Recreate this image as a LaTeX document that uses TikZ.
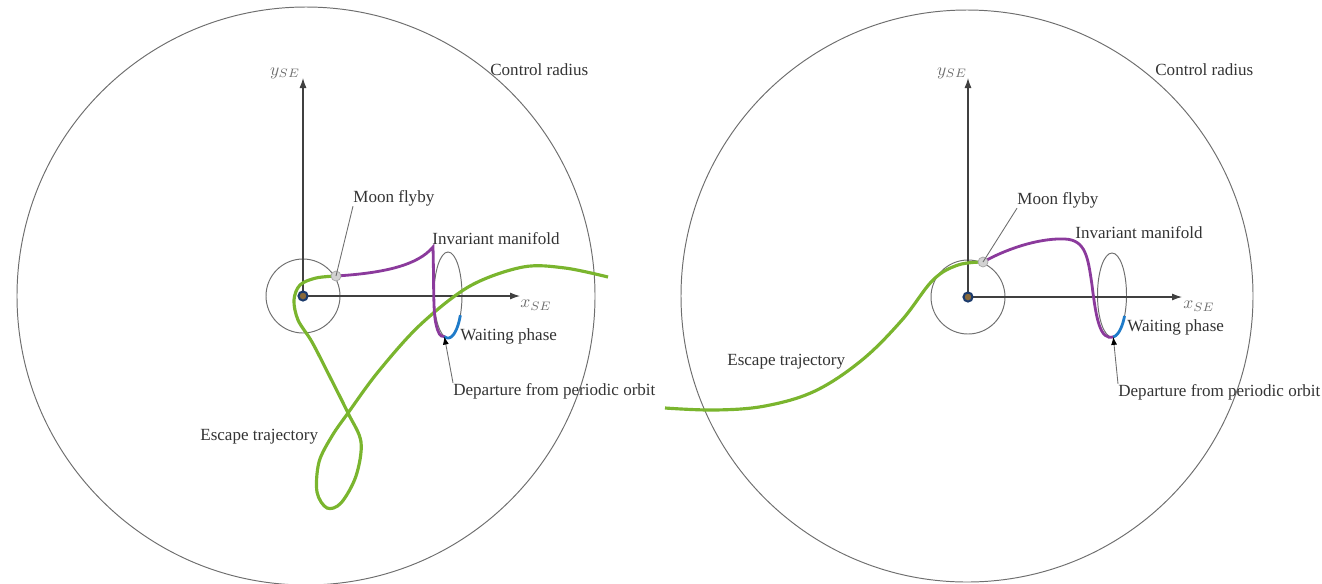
\documentclass[tikz,border=0pt]{standalone}
\usepackage{fontspec}
\setmainfont{Liberation Serif}
\usetikzlibrary{arrows.meta}
\definecolor{Verde}{HTML}{7AB52E}
\definecolor{Morado}{HTML}{8B3A9C}
\definecolor{AzulOrb}{HTML}{1F7BC9}
\definecolor{GrisTexto}{HTML}{333333}
\definecolor{GrisLinea}{HTML}{6E6E6E}
\definecolor{Tierra}{HTML}{8A6A3A}
\definecolor{AzulTierra}{HTML}{1B3A6B}

\begin{document}
\begin{tikzpicture}[
  x=0.02cm,y=-0.02cm,
  font=\fontsize{9.7}{11}\selectfont,
  text=GrisTexto,
  etiqueta/.style={inner sep=0pt,anchor=west},
  ejetxt/.style={inner sep=0pt,text=GrisLinea},
  eje/.style={-{Latex[length=2mm,width=1.4mm]},line width=0.6pt,black!75},
  guia/.style={GrisLinea,line width=0.5pt},
  punta/.style={{Latex[length=1.6mm,width=1.2mm,black]}-},
  circulo/.style={GrisLinea,line width=0.55pt},
  trayectoria/.style={Verde,line width=1.8pt},
  variedad/.style={Morado,line width=1.6pt,line cap=round},
  espera/.style={AzulOrb,line width=1.6pt}
]
  \useasboundingbox (0,0) rectangle (1322,583);

  % Panel izquierdo: la fase de espera y el sobrevuelo lunar.
  \coordinate (o1) at (303,296);
  \coordinate (luna1) at (336,276);
  \coordinate (salida1) at ({448+14*cos(105)},{295+43*sin(105)});
  \draw[circulo] (306,296) circle (289);
  \draw[circulo] (o1) circle (37);
  \draw[circulo] (448,295) ellipse [x radius=14,y radius=43];
  \draw[eje] (o1) -- (303,78);
  \draw[eje] (o1) -- (520,296);
  \node[ejetxt] (y1) at (285,73) {$y_{SE}$};
  \node[ejetxt] (x1) at (536,305) {$x_{SE}$};
  \draw[trayectoria] plot[smooth,tension=0.55] coordinates
    {(336,276) (316,278) (300,285) (294,300) (298,320) (312,342) (330,377) (348,413)
     (361,442) (356,476) (341,503) (327,508) (317,492) (319,462) (332,436)
     (348,413) (378,372) (420,325) (470,286) (523,267) (565,268) (608,277)};
  \draw[variedad] (luna1) .. controls (385,273) and (418,265) .. (433,247)
    .. controls (434,285) and (433,312) .. (436,324)
    .. controls (438,333) and (440,337) .. (salida1);
  \draw[espera] plot[domain=28:105,samples=30,variable=\t]
    ({448+14*cos(\t)},{295+43*sin(\t)});
  \fill[Tierra] (o1) circle (3.5);
  \draw[AzulTierra,line width=1.2pt] (o1) circle (4.5);
  \draw[gray!70,fill=gray!35] (luna1) circle (5);

  \node[etiqueta] (radio1) at (490,70) {Control radius};
  \node[etiqueta] (lunatxt1) at (353,198) {Moon flyby};
  \node[etiqueta] (variedadtxt1) at (432,239) {Invariant manifold};
  \node[etiqueta] (esperatxt1) at (460,336) {Waiting phase};
  \node[etiqueta] (salidatxt1) at (453,391) {Departure from periodic orbit};
  \node[etiqueta] (escapetxt1) at (200,437) {Escape trajectory};
  \draw[guia] (luna1) -- (lunatxt1.south west);
  \draw[guia,punta] (salida1) -- (salidatxt1.north west);

  % Panel derecho: el escape sale hacia la izquierda.
  \coordinate (o2) at (968,297);
  \coordinate (luna2) at (983,262);
  \coordinate (salida2) at ({1112+14.5*cos(85)},{295+42*sin(85)});
  \draw[circulo] (967,296) circle (286);
  \draw[circulo] (o2) circle (37);
  \draw[circulo] (1112,295) ellipse [x radius=14.5,y radius=42];
  \draw[eje] (o2) -- (968,78);
  \draw[eje] (o2) -- (1182,297);
  \node[ejetxt] (y2) at (952,73) {$y_{SE}$};
  \node[ejetxt] (x2) at (1199,306) {$x_{SE}$};
  \draw[trayectoria] plot[smooth,tension=0.6] coordinates
    {(983,262) (958,265) (933,280) (902,320) (862,360) (815,391) (765,406)
     (715,410) (665,408)};
  \draw[variedad] (luna2) .. controls (1012,246) and (1043,238) .. (1065,239)
    .. controls (1086,240) and (1088,258) .. (1092,285)
    .. controls (1096,318) and (1100,341) .. (salida2);
  \draw[espera] plot[domain=30:85,samples=30,variable=\t]
    ({1112+14.5*cos(\t)},{295+42*sin(\t)});
  \fill[Tierra] (o2) circle (3.5);
  \draw[AzulTierra,line width=1.2pt] (o2) circle (4.5);
  \draw[gray!70,fill=gray!35] (luna2) circle (5);

  \node[etiqueta] (radio2) at (1155,70) {Control radius};
  \node[etiqueta] (lunatxt2) at (1017,200) {Moon flyby};
  \node[etiqueta] (variedadtxt2) at (1075,233) {Invariant manifold};
  \node[etiqueta] (esperatxt2) at (1127,327) {Waiting phase};
  \node[etiqueta] (salidatxt2) at (1118,392) {Departure from periodic orbit};
  \node[etiqueta] (escapetxt2) at (727,362) {Escape trajectory};
  \draw[guia] (luna2) -- (lunatxt2.south west);
  \draw[guia,punta] (salida2) -- (salidatxt2.north west);
\end{tikzpicture}
\end{document}
